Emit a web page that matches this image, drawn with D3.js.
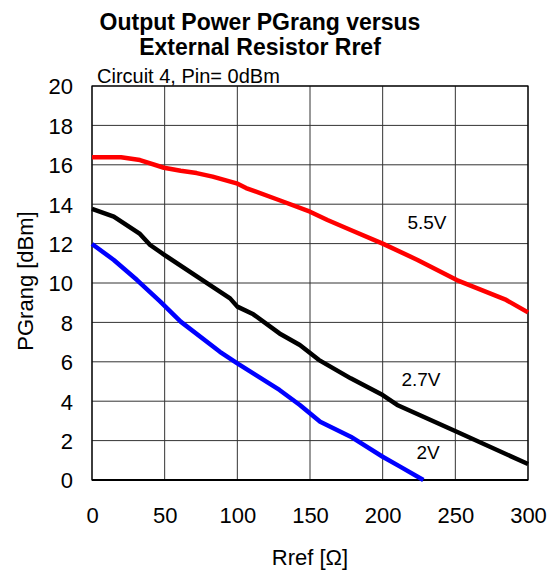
<!DOCTYPE html>
<html><head><meta charset="utf-8">
<script src="https://cdn.jsdelivr.net/npm/d3@7"></script>
<style>body{margin:0;background:#fff}</style>
</head><body>
<script>
const xTicks = [0, 50, 100, 150, 200, 250, 300];
const yTicks = [0, 2, 4, 6, 8, 10, 12, 14, 16, 18, 20];
const rref55 = [0, 20, 33, 49.5, 61, 72, 83, 99.5, 106, 129, 150, 162, 178, 200, 224, 251, 285, 300];
const pg55   = [16.38, 16.38, 16.24, 15.85, 15.7, 15.58, 15.4, 15.06, 14.82, 14.2, 13.62, 13.2, 12.69, 12.0, 11.17, 10.15, 9.14, 8.51];
const rref27 = [0, 15, 33, 40, 50, 76, 95, 100, 111, 129, 143, 156, 178, 200, 210, 251, 300];
const pg27   = [13.76, 13.37, 12.49, 11.93, 11.42, 10.15, 9.22, 8.8, 8.41, 7.44, 6.85, 6.1, 5.16, 4.31, 3.81, 2.45, 0.81];
const rref20 = [0, 15, 31, 47, 61, 88, 100, 129, 143, 157, 178, 200, 212, 228];
const pg20   = [11.98, 11.17, 10.15, 9.05, 8.04, 6.51, 5.92, 4.57, 3.81, 2.96, 2.2, 1.18, 0.68, 0];
const seriesNames = ["5.5V", "2.7V", "2V"];

const W = 560, H = 575;
const L = 92, R = 528, T = 86, B = 480;
const FONT = "Arial, 'Liberation Sans', sans-serif";
const svg = d3.select("body").append("svg").attr("width", W).attr("height", H)
  .style("font-family", FONT);

const x = d3.scaleLinear().domain([0, 300]).range([L, R]);
const y = d3.scaleLinear().domain([0, 20]).range([B, T]);

// grid
svg.append("g").selectAll("line").data(yTicks).join("line")
  .attr("x1", L).attr("x2", R).attr("y1", d => y(d)).attr("y2", d => y(d))
  .attr("stroke", "#333").attr("stroke-width", 1);
svg.append("g").selectAll("line").data(xTicks).join("line")
  .attr("y1", T).attr("y2", B).attr("x1", d => x(d)).attr("x2", d => x(d))
  .attr("stroke", "#333").attr("stroke-width", 1);
svg.append("rect").attr("x", L).attr("y", T).attr("width", R - L).attr("height", B - T)
  .attr("fill", "none").attr("stroke", "#000").attr("stroke-width", 1.2);
svg.append("line").attr("x1", L).attr("x2", R).attr("y1", B).attr("y2", B)
  .attr("stroke", "#000").attr("stroke-width", 2);

// axes labels via d3 axes
const yAxis = svg.append("g").attr("transform", `translate(${L},0)`)
  .call(d3.axisLeft(y).tickValues(yTicks).tickSize(0).tickPadding(19));
yAxis.select(".domain").remove();
yAxis.selectAll("text").attr("font-size", 22).attr("fill", "#000").attr("font-family", FONT)
  .attr("dy", "0.36em");
const xAxis = svg.append("g").attr("transform", `translate(0,${B})`)
  .call(d3.axisBottom(x).tickValues(xTicks).tickSize(0).tickPadding(0));
xAxis.select(".domain").remove();
xAxis.selectAll("text").attr("font-size", 22).attr("fill", "#000").attr("font-family", FONT)
  .attr("y", 43).attr("dy", 0);

// lines
const line = d3.line().x(d => x(d[0])).y(d => y(d[1])).curve(d3.curveLinear);
const series = [
  {name: seriesNames[0], xs: rref55, ys: pg55, color: "#ff0000", lx: 427, ly: 228.5},
  {name: seriesNames[1], xs: rref27, ys: pg27, color: "#000000", lx: 421, ly: 386},
  {name: seriesNames[2], xs: rref20, ys: pg20, color: "#0000ff", lx: 428, ly: 459}
];
series.forEach(s => {
  svg.append("path").datum(s.xs.map((v, i) => [v, s.ys[i]]))
    .attr("d", line).attr("fill", "none").attr("stroke", s.color)
    .attr("stroke-width", 4.5).attr("stroke-linejoin", "round");
  svg.append("text").attr("x", s.lx).attr("y", s.ly).attr("text-anchor", "middle")
    .attr("font-size", 19).text(s.name);
});

// titles
svg.append("text").attr("x", 260).attr("y", 30).attr("text-anchor", "middle")
  .attr("font-size", 23).attr("font-weight", "bold").text("Output Power PGrang versus");
svg.append("text").attr("x", 260).attr("y", 55).attr("text-anchor", "middle")
  .attr("font-size", 23).attr("font-weight", "bold").text("External Resistor Rref");
svg.append("text").attr("x", 97).attr("y", 82.5)
  .attr("font-size", 20).text("Circuit 4, Pin= 0dBm");
svg.append("text").attr("x", 310).attr("y", 565).attr("text-anchor", "middle")
  .attr("font-size", 22).text("Rref [Ω]");
svg.append("text").attr("transform", "translate(33,281) rotate(-90)").attr("text-anchor", "middle")
  .attr("font-size", 22).text("PGrang [dBm]");
</script>
</body></html>
